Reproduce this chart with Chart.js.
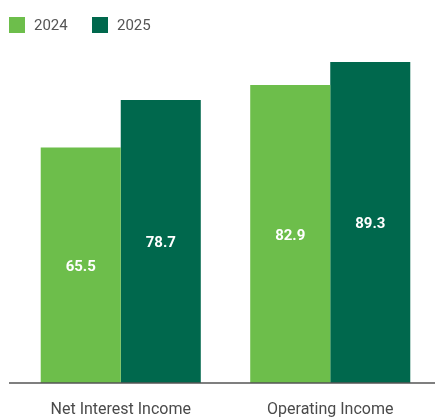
<!DOCTYPE html>
<html>
<head>
<meta charset="utf-8">
<script src="https://cdn.jsdelivr.net/npm/chart.js@4"></script>
<style>
  body { margin: 0; background: #fff; }
  #wrap { width: 435px; height: 418px; }
</style>
</head>
<body>
<div id="wrap"><canvas id="myChart" width="435" height="418"></canvas></div>
<script>
var categories = ['Net Interest Income', 'Operating Income'];
var years = ['2024', '2025'];
var values2024 = [65.5, 82.9];
var values2025 = [78.7, 89.3];
var colors = ['#6DBE4B', '#00684D'];

// white value labels in the middle of each bar
var barLabels = {
  id: 'barLabels',
  afterDatasetsDraw: function(chart) {
    var ctx = chart.ctx;
    ctx.save();
    ctx.fillStyle = '#fff';
    ctx.font = 'bold 15px Roboto';
    ctx.textAlign = 'center';
    ctx.textBaseline = 'middle';
    chart.data.datasets.forEach(function(ds, i) {
      chart.getDatasetMeta(i).data.forEach(function(bar, j) {
        ctx.fillText(ds.data[j].toFixed(1), bar.x, (bar.y + bar.base) / 2 + 2);
      });
    });
    ctx.restore();
  }
};

// baseline + square legend at top left
var extras = {
  id: 'extras',
  afterDraw: function(chart) {
    var ctx = chart.ctx;
    var y0 = chart.scales.y.getPixelForValue(0);
    ctx.save();
    ctx.strokeStyle = '#555';
    ctx.lineWidth = 1.5;
    ctx.beginPath();
    ctx.moveTo(9, y0);
    ctx.lineTo(435, y0);
    ctx.stroke();

    ctx.font = '15px Roboto';
    ctx.textBaseline = 'middle';
    ctx.textAlign = 'left';
    var xs = [9, 92];
    chart.data.datasets.forEach(function(ds, i) {
      ctx.fillStyle = ds.backgroundColor;
      ctx.fillRect(xs[i], 17, 16, 16);
      ctx.fillStyle = '#555';
      ctx.fillText(ds.label, xs[i] + 25, 26);
    });
    ctx.restore();
  }
};

var ctx = document.getElementById('myChart').getContext('2d');
var chart = new Chart(ctx, {
  type: 'bar',
  data: {
    labels: categories,
    datasets: [{
      label: years[0],
      data: values2024,
      backgroundColor: colors[0]
    }, {
      label: years[1],
      data: values2025,
      backgroundColor: colors[1]
    }]
  },
  options: {
    responsive: false,
    animation: false,
    layout: { padding: { top: 23.5, right: 0, left: 0, bottom: 0 } },
    datasets: {
      bar: { categoryPercentage: 0.764, barPercentage: 1.0 }
    },
    plugins: {
      legend: { display: false },
      tooltip: { enabled: false }
    },
    scales: {
      x: {
        grid: { display: false },
        border: { display: false },
        ticks: {
          color: '#4a4a4a',
          font: { family: 'Roboto', size: 16 },
          padding: 9
        },
        afterFit: function(scale) { scale.height = 35; }
      },
      y: {
        min: 0,
        max: 100,
        grid: { display: false },
        border: { display: false },
        ticks: { display: false },
        afterFit: function(scale) { scale.width = 16; }
      }
    }
  },
  plugins: [barLabels, extras]
});
</script>
</body>
</html>
